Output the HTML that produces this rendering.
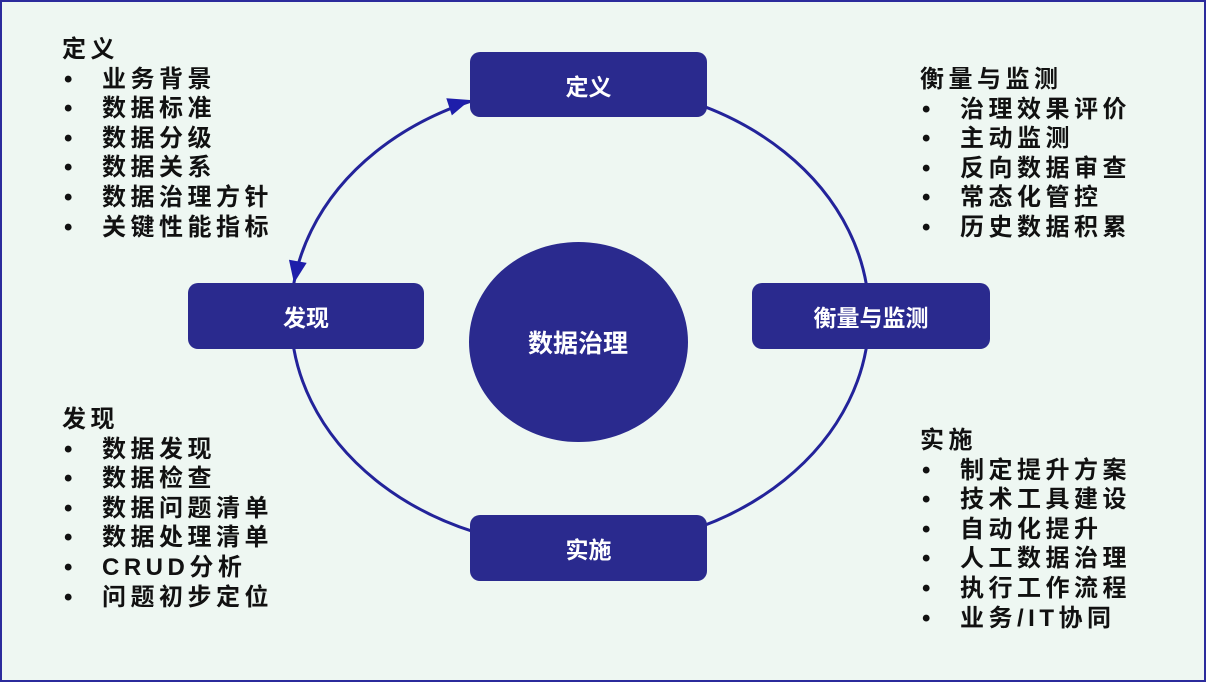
<!DOCTYPE html>
<html><head><meta charset="utf-8"><style>
html,body{margin:0;padding:0}
body{width:1206px;height:682px;position:relative;background:#eef7f2;overflow:hidden;font-family:"Liberation Sans","Noto Sans CJK SC",sans-serif}
.frame{position:absolute;left:0;top:0;width:1202px;height:678px;border:2px solid #2b2b9c}
.box{position:absolute;background:#2a2a8e;border-radius:10px;color:#fff;font-weight:bold;font-size:23px;display:flex;align-items:center;justify-content:center}
.blk{position:absolute;font-weight:bold;font-size:24px;letter-spacing:4.5px;color:#111;line-height:29.6px}
.blk div{white-space:nowrap;position:relative}
.blk .i{padding-left:40px}
.blk .i:before{content:"•";position:absolute;left:2px;letter-spacing:0}
</style></head><body>
<div class="frame"></div>
<svg width="1206" height="682" style="position:absolute;left:0;top:0">
<ellipse cx="580" cy="316" rx="289" ry="232" fill="none" stroke="#23239a" stroke-width="3"/>
<polygon points="0,0 -22,-9 -22,9" fill="#1e1eaa" transform="translate(470,100) rotate(-18)"/>
<polygon points="0,0 -22,-9 -22,9" fill="#1e1eaa" transform="translate(294,283) rotate(100)"/>
<ellipse cx="578.5" cy="342" rx="109.5" ry="100" fill="#2a2a8e"/>
<text x="578" y="352" text-anchor="middle" fill="#fff" font-size="25" font-weight="bold" font-family="Liberation Sans, Noto Sans CJK SC, sans-serif">数据治理</text>
</svg>
<div class="box" style="left:470px;top:52px;width:237px;height:65px">定义</div>
<div class="box" style="left:188px;top:283px;width:236px;height:66px">发现</div>
<div class="box" style="left:752px;top:283px;width:238px;height:66px">衡量与监测</div>
<div class="box" style="left:470px;top:515px;width:237px;height:66px">实施</div>
<div class="blk" style="left:62px;top:35px"><div>定义</div><div class="i">业务背景</div><div class="i">数据标准</div><div class="i">数据分级</div><div class="i">数据关系</div><div class="i">数据治理方针</div><div class="i">关键性能指标</div></div>
<div class="blk" style="left:920px;top:65px"><div>衡量与监测</div><div class="i">治理效果评价</div><div class="i">主动监测</div><div class="i">反向数据审查</div><div class="i">常态化管控</div><div class="i">历史数据积累</div></div>
<div class="blk" style="left:62px;top:405px"><div>发现</div><div class="i">数据发现</div><div class="i">数据检查</div><div class="i">数据问题清单</div><div class="i">数据处理清单</div><div class="i">CRUD分析</div><div class="i">问题初步定位</div></div>
<div class="blk" style="left:920px;top:426px"><div>实施</div><div class="i">制定提升方案</div><div class="i">技术工具建设</div><div class="i">自动化提升</div><div class="i">人工数据治理</div><div class="i">执行工作流程</div><div class="i">业务/IT协同</div></div>
</body></html>
